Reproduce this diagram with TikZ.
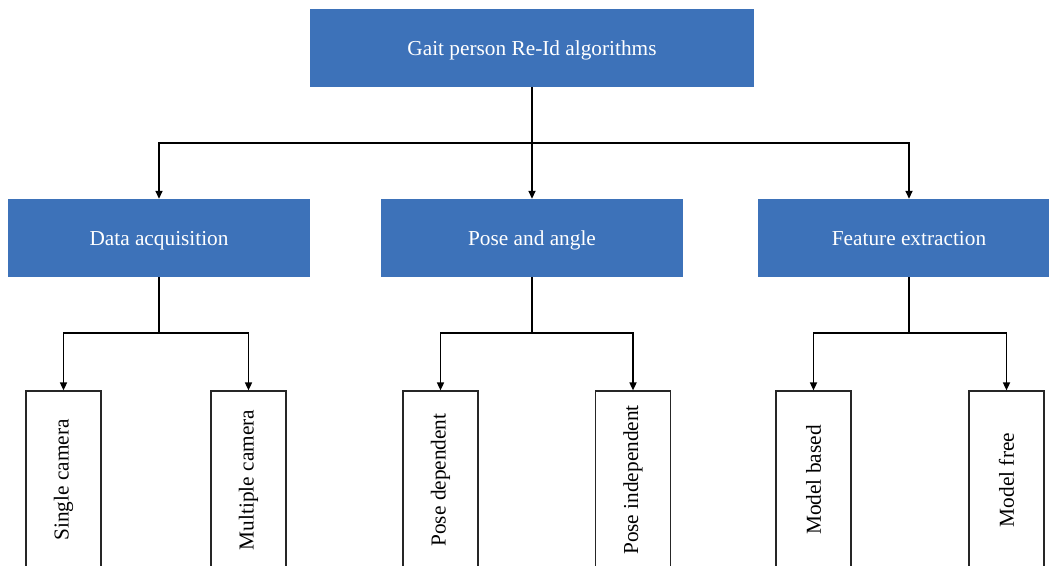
\documentclass[tikz,border=0pt]{standalone}
\usepackage{fontspec}
\setmainfont{Liberation Serif}
\usetikzlibrary{arrows.meta}
\definecolor{gaitblue}{RGB}{61,114,185}

\begin{document}
\begin{tikzpicture}[x=1pt, y=-1pt,
   every node/.style={inner sep=0pt, font=\fontsize{21.3}{25}\selectfont},
   group/.style={fill=gaitblue, text=white, text depth=0pt, minimum width=302pt, minimum height=78pt},
   leaf/.style={draw=black!85, line width=1.2pt, rotate=90, minimum width=178pt, minimum height=75pt},
   link/.style={line width=1.6pt, -{Triangle[length=8pt, width=7pt]}}]

\clip (0,0) rectangle (1049,565);

\node[group, minimum width=444pt] (root) at (532,48) {Gait person Re-Id algorithms};

\node[group] (data) at (159,238) {Data acquisition};
\node[group] (pose) at (532,238) {Pose and angle};
\node[group] (feat) at (909,238) {Feature extraction};

\node[leaf] (single) at (63.5,480) {Single camera};
\node[leaf] (multi) at (248.5,480) {Multiple camera};
\node[leaf] (posedep) at (440.5,480) {Pose dependent};
\node[leaf] (poseind) at (633,480) {Pose independent};
\node[leaf] (modelb) at (813.5,480) {Model based};
\node[leaf] (modelf) at (1006.5,480) {Model free};

\draw[link] (root.south) -- ++(0,56) -| (data);
\draw[link] (root.south) -- (pose);
\draw[link] (root.south) -- ++(0,56) -| (feat);

\draw[link] (data.south) -- ++(0,56) -| (single);
\draw[link] (data.south) -- ++(0,56) -| (multi);
\draw[link] (pose.south) -- ++(0,56) -| (posedep);
\draw[link] (pose.south) -- ++(0,56) -| (poseind);
\draw[link] (feat.south) -- ++(0,56) -| (modelb);
\draw[link] (feat.south) -- ++(0,56) -| (modelf);

\end{tikzpicture}
\end{document}
